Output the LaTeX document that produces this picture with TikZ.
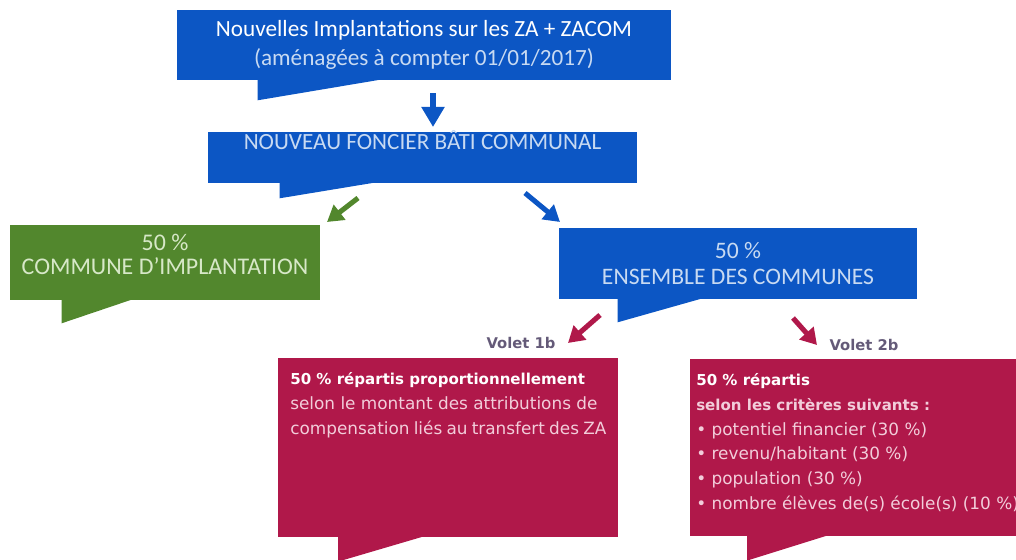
\documentclass[tikz,border=0pt]{standalone}
\usepackage{fontspec}
\setmainfont{Carlito}
\newfontfamily\dejavu{DejaVu Sans}
\usetikzlibrary{arrows.meta,calc}
\definecolor{bleuza}{RGB}{12,86,196}
\definecolor{vertza}{RGB}{82,135,45}
\definecolor{rougeza}{RGB}{176,24,74}
\definecolor{gristxt}{RGB}{100,90,120}
\definecolor{palebleu}{RGB}{200,218,242}
\definecolor{palevert}{RGB}{215,232,200}
\definecolor{palerose}{RGB}{242,205,218}

\begin{document}
\begin{tikzpicture}[x=0.025cm, y=-0.025cm,
	boite/.style={shape=rectangle, fill=#1, inner sep=0pt, align=center},
	fleche/.style={draw=#1, line width=3.6pt, -{Triangle[length=0.4cm, width=0.46cm]}},
	grandefleche/.style={draw=#1, line width=4.3pt, -{Triangle[length=0.5cm, width=0.55cm]}},
	volet/.style={font=\dejavu\bfseries\fontsize{10.5}{12}\selectfont, text=gristxt}]
	\useasboundingbox (0,0) rectangle (1016,559);
	\clip (0,0) rectangle (1016,559);
	% Boxes:
	\node[boite=bleuza, minimum width=12.35cm, minimum height=1.75cm, font=\fontsize{16.5}{21}\selectfont, text=white] (b1) at (424, 45){Nouvelles Implantations sur les ZA + ZACOM\\\textcolor{palebleu}{(aménagées à compter 01/01/2017)}};
	\node[boite=bleuza, minimum width=10.725cm, minimum height=1.275cm, font=\fontsize{16.5}{21}\selectfont, text=palebleu, text height=0.42cm, text depth=0.805cm] (b2) at (422.5, 157.5){NOUVEAU FONCIER BÂTI COMMUNAL};
	\node[boite=vertza, minimum width=7.75cm, minimum height=1.875cm, font=\fontsize{17}{16.8}\selectfont, text=palevert, text height=1.0cm, text depth=0.415cm] (b3) at (165, 262.5){50 \%\\COMMUNE D’IMPLANTATION};
	\node[boite=bleuza, minimum width=8.95cm, minimum height=1.775cm, font=\fontsize{16.8}{19}\selectfont, text=palebleu] (b4) at (738, 263.5){50 \%\\ENSEMBLE DES COMMUNES};
	\node[boite=rougeza, anchor=north west, inner xsep=0.3cm, inner ysep=0.35cm, font=\dejavu\fontsize{12}{17.7}\selectfont, text=palerose] (b5) at (278, 358){\begin{minipage}[t][3.775cm][t]{7.9cm}
		{\bfseries\fontsize{10.7}{17.7}\selectfont\color{white}50 \% répartis proportionnellement}\\
		selon le montant des attributions de\\
		compensation liés au transfert des ZA
	\end{minipage}};
	\node[boite=rougeza, anchor=north west, inner xsep=0.15cm, inner ysep=0.35cm, font=\dejavu\fontsize{12}{17.7}\selectfont, text=palerose] (b6) at (690, 359){\begin{minipage}[t][3.725cm][t]{8.2cm}
		{\bfseries\fontsize{10.7}{17.7}\selectfont\color{white}50 \% répartis}\\
		{\bfseries\fontsize{10.7}{17.7}\selectfont selon les critères suivants :}\\
		• potentiel financier (30 \%)\\
		• revenu/habitant (30 \%)\\
		• population (30 \%)\\
		• nombre élèves de(s) école(s) (10 \%)
	\end{minipage}};
	% Tails of the boxes:
	\foreach \n/\g/\d/\p/\c in {b1/81/206/20/bleuza, b2/72/169/15/bleuza, b3/52/123/23/vertza, b4/59/144/23/bleuza, b5/60/145/24/rougeza, b6/57/137/24/rougeza}
		\fill[\c] ($(\n.south west)+(\g,-1)$) -- ++(0,\p+1) -- ($(\n.south west)+(\d,-1)$) -- cycle;
	% Labels:
	\node[volet] (v1) at (521, 343){Volet 1b};
	\node[volet] (v2) at (864, 345){Volet 2b};
	% Arrows:
	\coordinate (a1) at (433, 93);
	\coordinate (a1e) at (433, 127);
	\coordinate (a2) at (358, 198);
	\coordinate (a2e) at (327, 222);
	\coordinate (a3) at (525, 193);
	\coordinate (a3e) at (560, 222);
	\coordinate (a4) at (600, 315);
	\coordinate (a4e) at (568, 343);
	\coordinate (a5) at (793, 318);
	\coordinate (a5e) at (817, 345);
	\draw[grandefleche=bleuza] (a1) -- (a1e);
	\draw[fleche=vertza] (a2) -- (a2e);
	\draw[fleche=bleuza] (a3) -- (a3e);
	\draw[fleche=rougeza] (a4) -- (a4e);
	\draw[fleche=rougeza] (a5) -- (a5e);
\end{tikzpicture}
\end{document}
